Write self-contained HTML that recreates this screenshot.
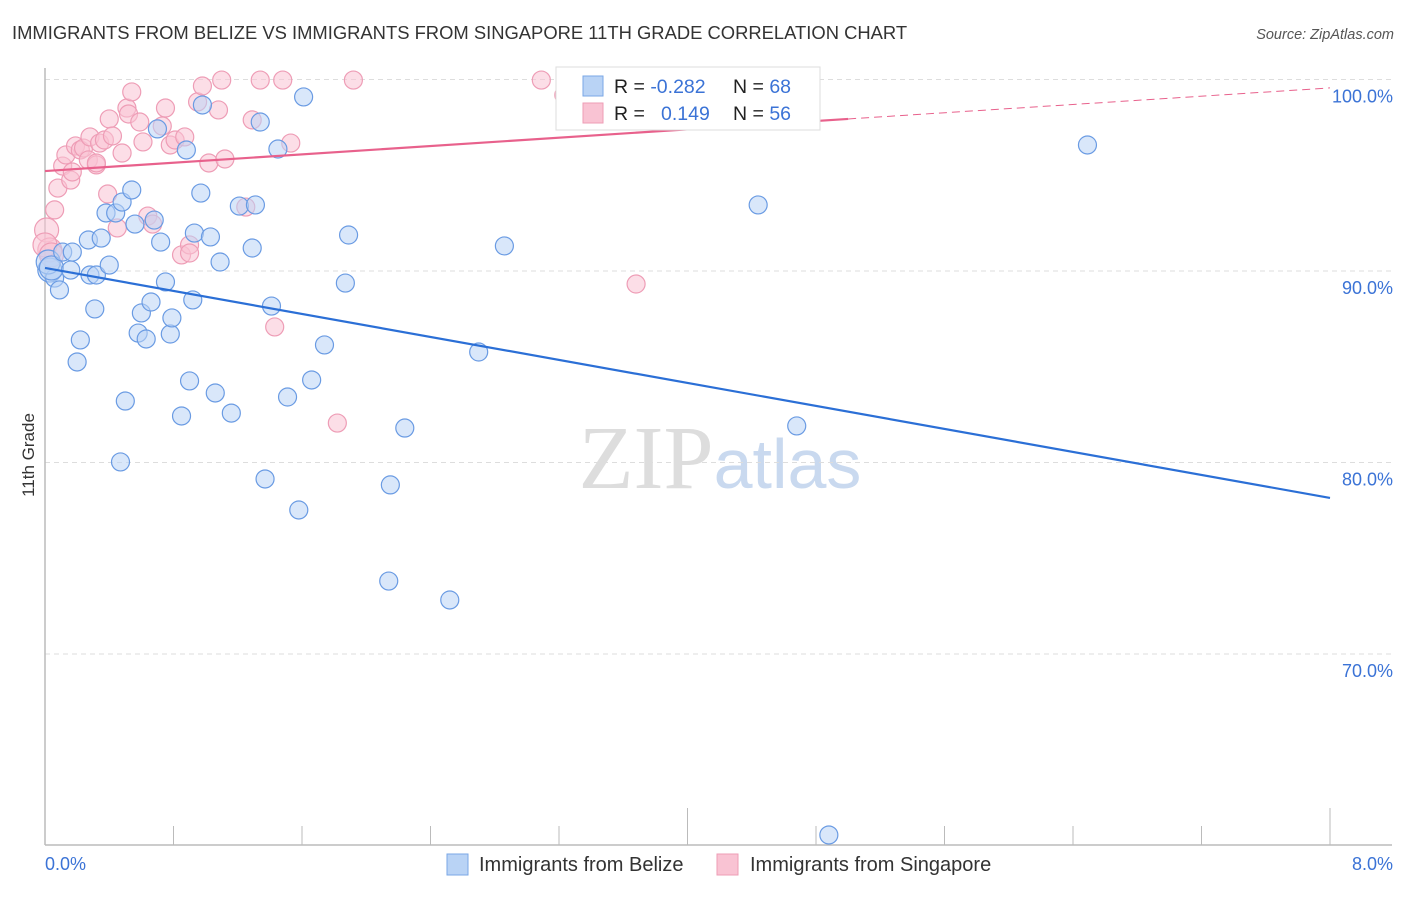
<!DOCTYPE html>
<html><head><meta charset="utf-8"><style>
body{margin:0;background:#fff;font-family:"Liberation Sans",sans-serif;}
svg text{font-family:"Liberation Sans",sans-serif;}
</style></head><body>
<svg id="chart" width="1406" height="892" viewBox="0 0 1406 892" xmlns="http://www.w3.org/2000/svg">
<text x="12" y="39" font-size="18.4" fill="#333">IMMIGRANTS FROM BELIZE VS IMMIGRANTS FROM SINGAPORE 11TH GRADE CORRELATION CHART</text>
<text x="1394" y="39" font-size="14.5" fill="#555" font-style="italic" text-anchor="end">Source: ZipAtlas.com</text>
<text x="720" y="488" font-size="90" text-anchor="middle"><tspan fill="#ddd" font-family="Liberation Serif">ZIP</tspan><tspan fill="#c9d9ef" font-size="70">atlas</tspan></text>
<text transform="translate(34,455) rotate(-90)" font-size="17" fill="#333" text-anchor="middle">11th Grade</text>
<g id="grid"></g><g id="axes"></g><g id="pts-pink"></g><g id="pts-blue"></g><g id="lines"></g>
<g>
<rect x="556" y="67" width="264" height="63" fill="#fff" stroke="#ddd"/>
<rect x="583" y="76" width="20" height="20" fill="#b9d3f5" stroke="#7aa7e6"/>
<rect x="583" y="103" width="20" height="20" fill="#f9c3d3" stroke="#ee9db6"/>
<text x="614" y="93" font-size="19.5" fill="#222">R = <tspan fill="#3b73d6">-0.282</tspan></text>
<text x="733" y="93" font-size="19.5" fill="#222">N = <tspan fill="#3b73d6">68</tspan></text>
<text x="614" y="120" font-size="19.5" fill="#222">R = <tspan fill="#3b73d6" x="661">0.149</tspan></text>
<text x="733" y="120" font-size="19.5" fill="#222">N = <tspan fill="#3b73d6">56</tspan></text>
</g>
<g>
<rect x="447" y="854" width="21" height="21" fill="#b9d3f5" stroke="#7aa7e6"/>
<text x="479" y="871" font-size="20" fill="#333">Immigrants from Belize</text>
<rect x="717" y="854" width="21" height="21" fill="#f9c3d3" stroke="#ee9db6"/>
<text x="750" y="871" font-size="20" fill="#333">Immigrants from Singapore</text>
</g>
</svg>
<script>
const blueX=[0.03,0.06,0.09,0.02,0.04,0.11,0.17,0.16,0.20,0.22,0.27,0.28,0.32,0.31,0.35,0.38,0.40,0.44,0.48,0.47,0.50,0.54,0.56,0.58,0.60,0.63,0.66,0.68,0.70,0.72,0.75,0.78,0.79,0.85,0.88,0.90,0.92,0.93,0.97,0.98,1.03,1.06,1.09,1.16,1.21,1.29,1.31,1.34,1.37,1.41,1.45,1.51,1.58,1.61,1.66,1.74,1.87,1.89,2.14,2.15,2.24,2.52,2.70,2.86,4.44,4.68,4.88,6.49];
const blueY=[90.05,89.63,89.01,90.47,90.16,90.99,90.99,90.05,85.25,86.40,91.62,89.79,89.79,88.02,91.72,93.03,90.31,93.03,93.60,80.03,83.21,94.23,92.45,86.76,87.81,86.45,88.38,92.66,97.42,91.51,89.43,86.71,87.55,82.43,96.32,84.26,88.49,91.98,94.07,98.67,91.78,83.63,90.47,82.58,93.39,91.20,93.45,97.78,79.14,88.17,96.37,83.42,77.52,99.09,84.31,86.14,89.37,91.88,73.81,78.83,81.80,72.82,85.77,91.31,93.45,81.91,60.55,96.58];
const pinkX=[0.01,0.03,0.06,0.08,0.11,0.13,0.16,0.17,0.19,0.22,0.24,0.27,0.28,0.32,0.34,0.37,0.39,0.40,0.42,0.45,0.48,0.51,0.52,0.54,0.59,0.61,0.64,0.67,0.73,0.75,0.78,0.81,0.85,0.87,0.90,0.95,0.98,1.02,1.08,1.10,1.12,1.25,1.29,1.34,1.43,1.48,1.53,1.82,1.92,3.09,3.23,3.68,0.00,0.04,0.90,0.32];
const pinkY=[92.14,91.10,93.19,94.33,95.48,96.06,94.75,95.17,96.53,96.32,96.42,95.80,97.00,95.54,96.68,96.84,94.02,97.94,97.05,92.25,96.16,98.51,98.20,99.35,97.78,96.74,92.87,92.45,97.57,98.51,96.58,96.84,90.84,97.00,91.36,98.83,99.66,95.64,98.41,99.97,95.85,93.34,97.89,99.97,87.08,99.97,96.68,82.06,99.97,99.97,99.19,89.32,91.36,90.84,90.94,95.64];
const blueTrend=[[0,90.16],[8,78.15]];
const pinkTrend=[[0,95.22],[5.0,97.94],[8,99.56]];
const yTicks=[100,90,80,70];
const yTickLabels=["100.0%","90.0%","80.0%","70.0%"];
const xTickVals=[0,0.8,1.6,2.4,3.2,4,4.8,5.6,6.4,7.2,8];
const xLabels=["0.0%","8.0%"];
const X=v=>45+v/8*1285;
const Y=v=>79.5+(100-v)*19.15;
const NS="http://www.w3.org/2000/svg";
function mk(t,a,p){const e=document.createElementNS(NS,t);for(const k in a)e.setAttribute(k,a[k]);p.appendChild(e);return e;}
const grid=document.getElementById('grid'),axes=document.getElementById('axes');
yTicks.forEach((v,i)=>{
 const l=mk('line',{x1:45,x2:1392,y1:Y(v),y2:Y(v),stroke:'#ddd','stroke-dasharray':'5,4'},grid);
 
 
 const t=mk('text',{x:1393,y:Y(v)+23,'font-size':18,fill:'#3b73d6','text-anchor':'end'},grid);
 t.textContent=yTickLabels[i];
 
 
});
const ax=mk('line',{x1:45,x2:1392,y1:845,y2:845,stroke:'#bbb','stroke-width':1.5},axes);


const ay=mk('line',{x1:45,x2:45,y1:68,y2:845,stroke:'#bbb','stroke-width':1.5},axes);


xTickVals.forEach((v,i)=>{
 const tall=(i==5||i==10);
 const t=mk('line',{x1:X(v),x2:X(v),y1:tall?808:826,y2:845,stroke:'#bbb'},axes);
 
 
});
[[0,'start',45],[8,'end',1393]].forEach((d,i)=>{
 const t=mk('text',{x:d[2],y:870,'font-size':18,fill:'#3b73d6','text-anchor':d[1]},axes);
 t.textContent=xLabels[i];
 
 
});
function pts(xs,ys,g,fill,stroke,name){
 xs.forEach((x,i)=>{
  const r=x<0.05?12:9;
  const c=mk('circle',{cx:X(x),cy:Y(ys[i]),r:r,fill:fill,'fill-opacity':0.55,stroke:stroke,'stroke-width':1.2},g);
  
  
 });
}
pts(pinkX,pinkY,document.getElementById('pts-pink'),'#f9c3d3','#ee9db6','singapore-point');
pts(blueX,blueY,document.getElementById('pts-blue'),'#b9d3f5','#6a9be3','belize-point');
const lg=document.getElementById('lines');
const bl=mk('line',{x1:X(blueTrend[0][0]),y1:Y(blueTrend[0][1]),x2:X(blueTrend[1][0]),y2:Y(blueTrend[1][1]),stroke:'#2b6fd6','stroke-width':2.2},lg);


const pl=mk('line',{x1:X(pinkTrend[0][0]),y1:Y(pinkTrend[0][1]),x2:X(pinkTrend[1][0]),y2:Y(pinkTrend[1][1]),stroke:'#e8618c','stroke-width':2.2},lg);


const pd=mk('line',{x1:X(pinkTrend[1][0]),y1:Y(pinkTrend[1][1]),x2:X(pinkTrend[2][0]),y2:Y(pinkTrend[2][1]),stroke:'#e8618c','stroke-width':1,'stroke-dasharray':'8,5'},lg);


</script>
</body></html>
